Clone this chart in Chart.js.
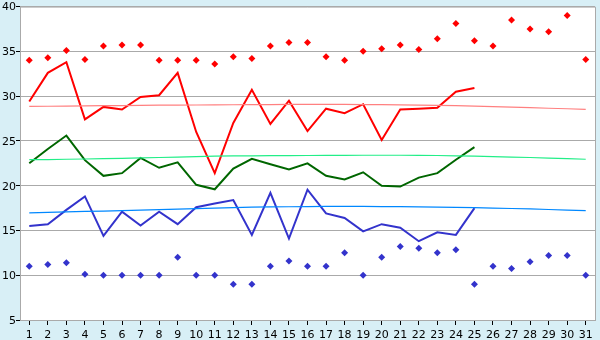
<!DOCTYPE html>
<html><head><meta charset="utf-8">
<script src="https://cdn.jsdelivr.net/npm/chart.js@4/dist/chart.umd.min.js"></script>
<style>
html,body{margin:0;padding:0;background:#d8eff6;}
#wrap{width:600px;height:340px;position:relative;}
</style></head>
<body><div id="wrap"><canvas id="c" width="600" height="340"></canvas></div>
<script>
const categories = ['1','2','3','4','5','6','7','8','9','10','11','12','13','14','15','16','17','18','19','20','21','22','23','24','25','26','27','28','29','30','31'];
const yTicks = [5,10,15,20,25,30,35,40];

const maxTemps = [34,34.3,35.1,34.1,35.6,35.7,35.7,34,34,34,33.6,34.4,34.2,35.6,36,36,34.4,34,35,35.3,35.7,35.2,36.4,38.1,36.2,35.6,38.5,37.5,37.2,39,34.1];
const highLine = [29.4,32.6,33.8,27.4,28.8,28.5,29.9,30.1,32.6,26.0,21.4,27.0,30.7,26.9,29.5,26.1,28.6,28.1,29.1,25.1,28.5,28.6,28.7,30.5,30.9,null,null,null,null,null,null];
const highTrend = [28.85,28.87,28.89,28.91,28.93,28.95,28.97,28.99,29.0,29.01,29.03,29.04,29.05,29.06,29.07,29.07,29.07,29.07,29.06,29.05,29.03,29.0,28.97,28.93,28.88,28.83,28.77,28.71,28.65,28.59,28.52];
const meanLine = [22.5,24.1,25.6,22.85,21.1,21.4,23.1,22.0,22.6,20.1,19.6,21.9,23.0,22.4,21.8,22.5,21.1,20.7,21.5,20.0,19.9,20.9,21.4,22.9,24.3,null,null,null,null,null,null];
const meanTrend = [22.9,22.92,22.95,22.98,23.02,23.06,23.1,23.15,23.2,23.25,23.3,23.32,23.34,23.35,23.36,23.37,23.38,23.39,23.4,23.4,23.4,23.39,23.37,23.34,23.3,23.25,23.2,23.15,23.08,23.02,22.95];
const lowLine = [15.5,15.7,17.3,18.8,14.4,17.1,15.55,17.1,15.7,17.6,18.0,18.4,14.5,19.2,14.1,19.55,16.9,16.4,14.9,15.7,15.3,13.8,14.8,14.5,17.5,null,null,null,null,null,null];
const lowTrend = [16.97,17.02,17.07,17.12,17.17,17.22,17.27,17.32,17.38,17.44,17.5,17.55,17.6,17.63,17.65,17.67,17.68,17.68,17.68,17.67,17.66,17.64,17.61,17.58,17.55,17.5,17.45,17.4,17.34,17.28,17.22];
const minTemps = [11,11.2,11.4,10.1,10,10,10,10,12,10,10,9,9,11,11.6,11,11,12.5,10,12,13.2,13,12.5,12.85,9,11,10.75,11.5,12.2,12.2,10];

const plotBg = {
  id:'plotBg',
  beforeDraw(chart){
    const {ctx, chartArea:a} = chart;
    ctx.save(); ctx.fillStyle='#ffffff';
    ctx.fillRect(a.left,a.top,a.right-a.left,a.bottom-a.top); ctx.restore();
  },
  afterDatasetsDraw(chart){
    const {ctx, chartArea:a} = chart;
    ctx.save(); ctx.strokeStyle='#aaaaaa'; ctx.lineWidth=1;
    ctx.beginPath();
    ctx.moveTo(a.left, a.top+0.5); ctx.lineTo(a.right+0.5, a.top+0.5);
    ctx.lineTo(a.right+0.5, a.bottom);
    ctx.stroke(); ctx.restore();
  }
};

const lineDs = (data,color,w)=>({type:'line',data,borderColor:color,backgroundColor:color,borderWidth:w,pointRadius:0,tension:0,spanGaps:false,fill:false});
const ptDs = (data,color)=>({type:'line',data,showLine:false,borderColor:color,backgroundColor:color,pointStyle:'rectRot',pointRadius:3.5,pointBorderWidth:0,borderWidth:0});

new Chart(document.getElementById('c'),{
  type:'line',
  data:{labels:categories,datasets:[
    lineDs(highTrend,'#ff8080',1.2),
    lineDs(meanTrend,'#22ee88',1.2),
    lineDs(lowTrend,'#0088ff',1.2),
    lineDs(highLine,'#ff0000',2),
    lineDs(meanLine,'#006600',2),
    lineDs(lowLine,'#3333cc',2),
    ptDs(maxTemps,'#ff0000'),
    ptDs(minTemps,'#3333cc')
  ]},
  options:{
    responsive:false,animation:false,
    layout:{padding:{top:5,right:5,left:0,bottom:0}},
    plugins:{legend:{display:false},tooltip:{enabled:false}},
    scales:{
      x:{offset:true,
        grid:{display:true,drawOnChartArea:false,drawTicks:true,tickLength:5,color:'#000000',tickColor:'#000000',offset:false},
        border:{display:true,color:'#aaaaaa'},
        ticks:{color:'#000',font:{family:'DejaVu Sans',size:11},padding:4,maxRotation:0,autoSkip:false},
        afterFit(s){s.height=20;}
      },
      y:{min:5,max:40,
        afterBuildTicks(s){s.ticks=yTicks.map(v=>({value:v}));},
        grid:{color:'#aaaaaa',tickColor:'#000000',tickLength:4,drawTicks:true},
        border:{display:true,color:'#aaaaaa'},
        ticks:{color:'#000',font:{family:'DejaVu Sans',size:11},padding:0,labelOffset:1},
        afterFit(s){s.width=20;}
      }
    }
  },
  plugins:[plotBg]
});
</script></body></html>
